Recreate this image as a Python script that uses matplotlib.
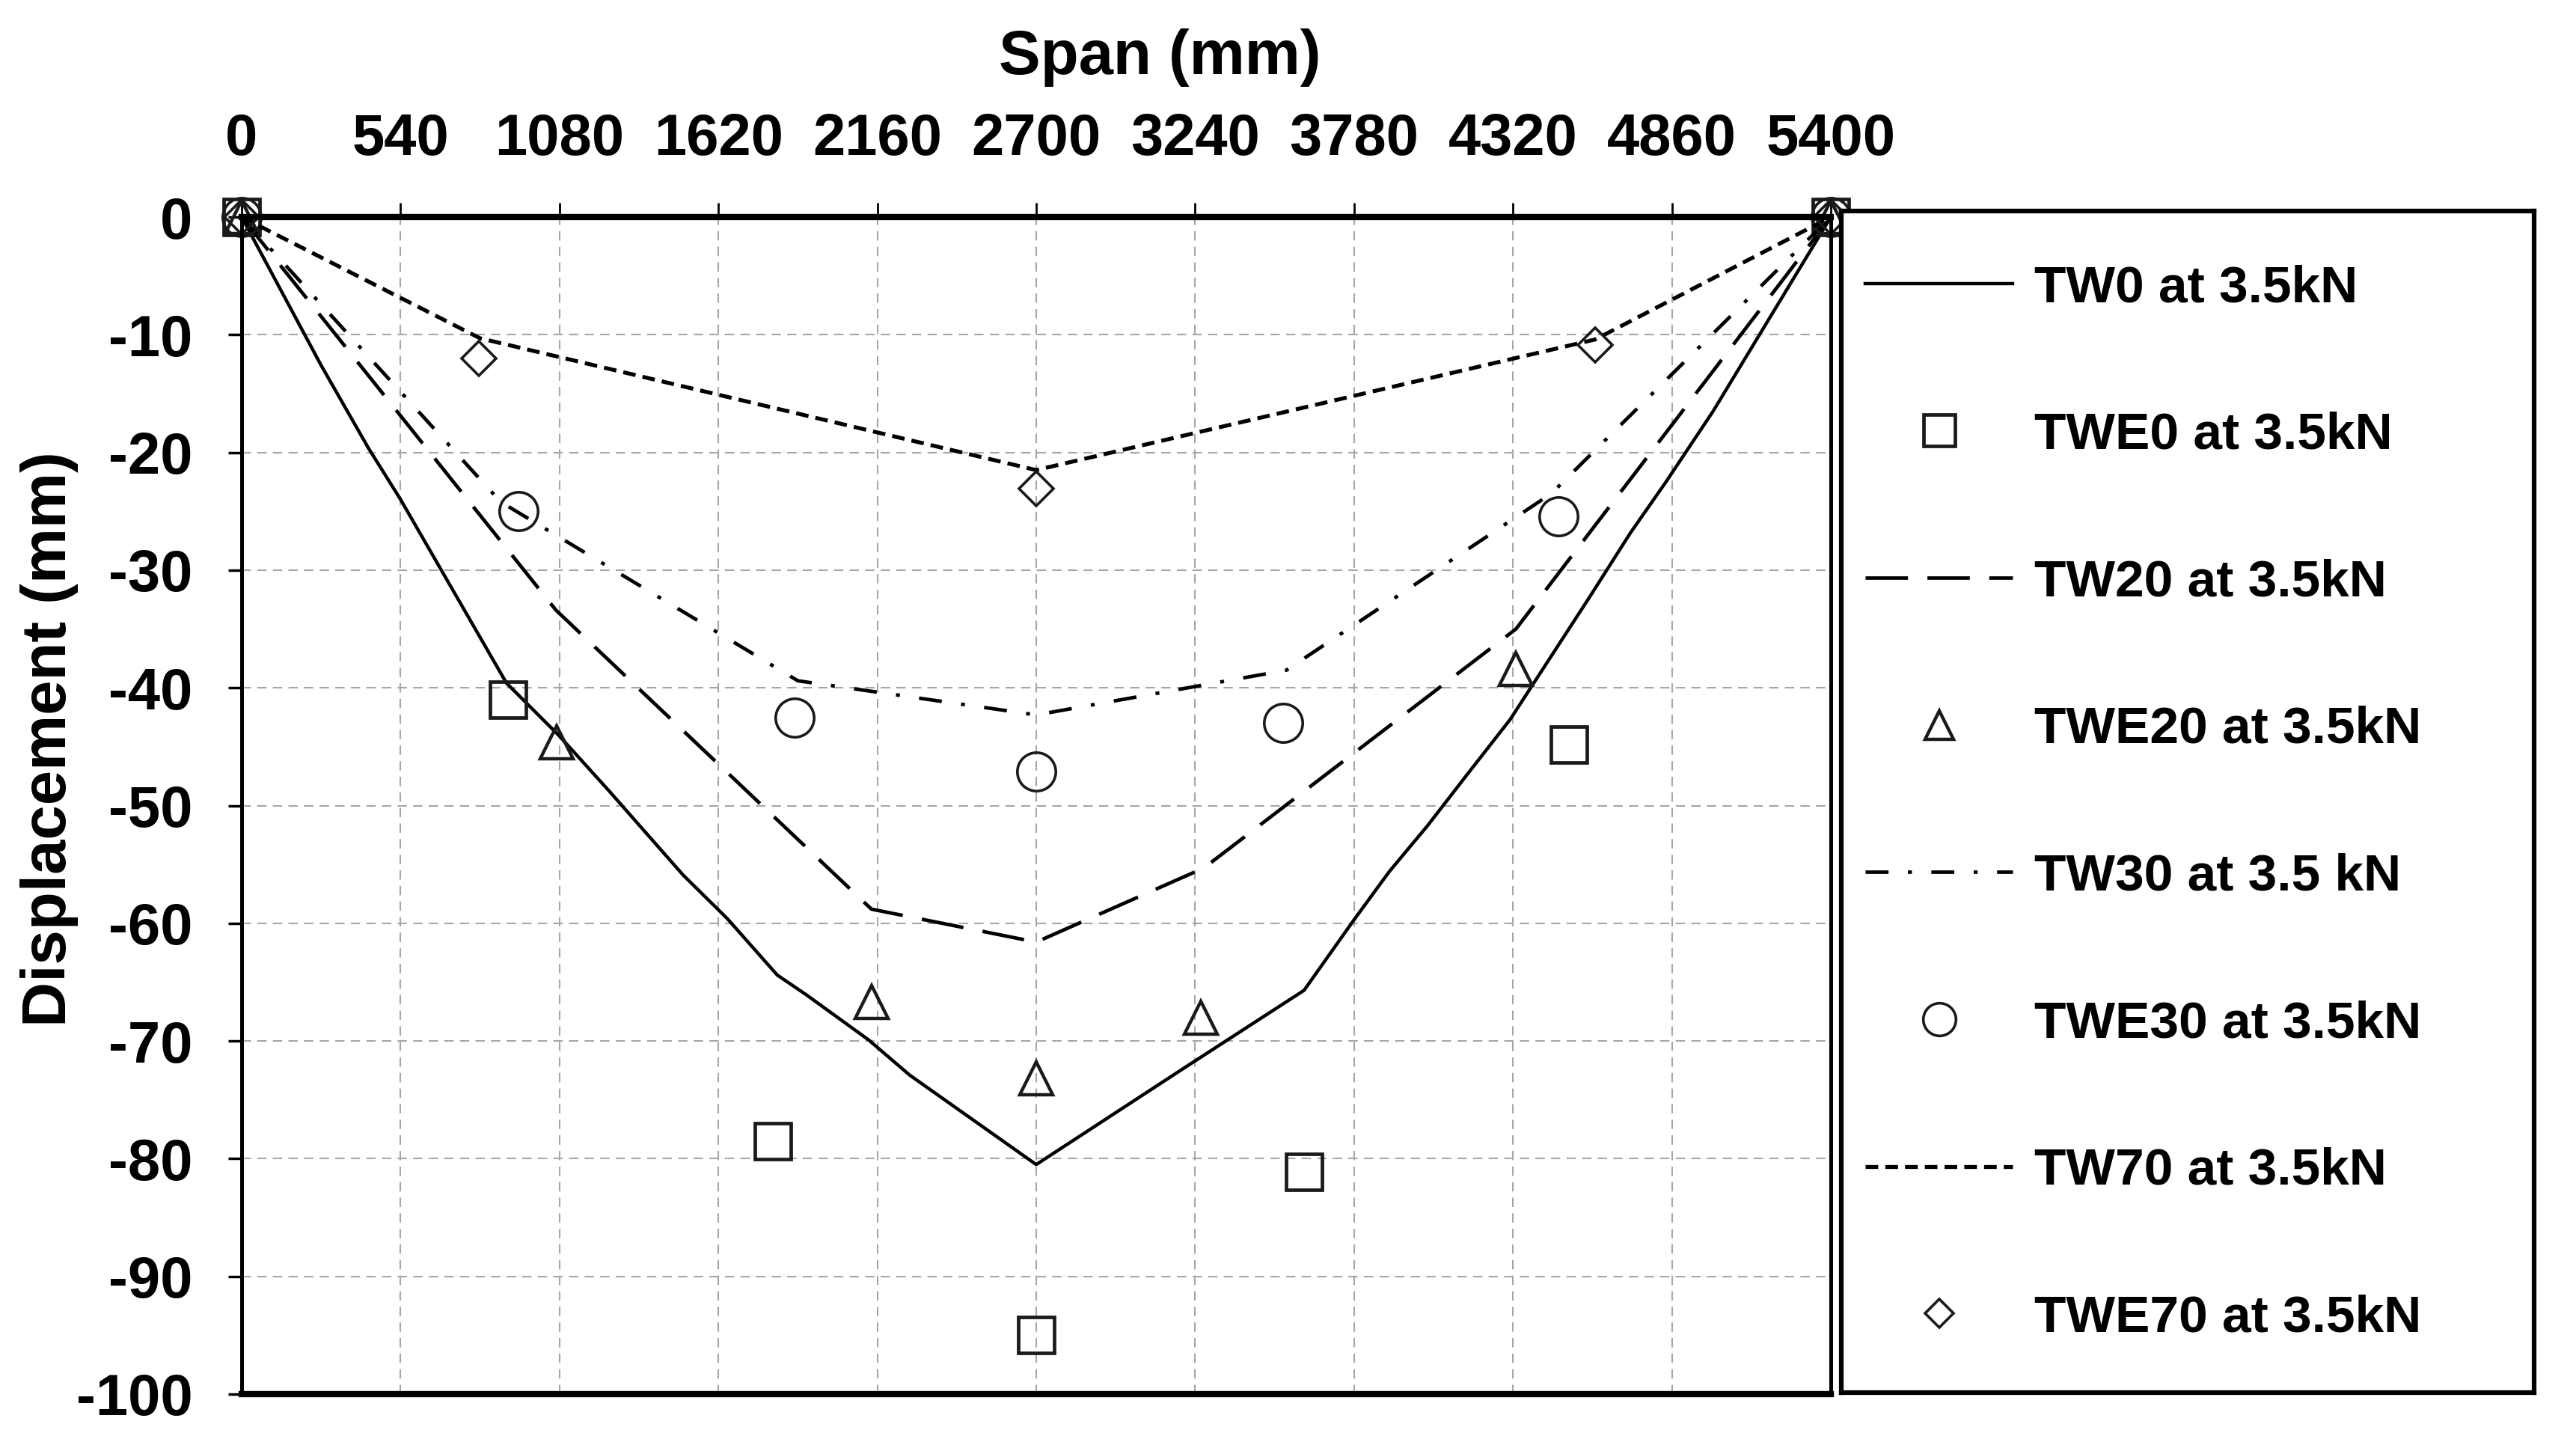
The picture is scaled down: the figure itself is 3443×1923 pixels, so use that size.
import matplotlib
matplotlib.use("Agg")
import matplotlib.pyplot as plt
import numpy as np

plt.rcParams['font.family'] = ['Liberation Sans', 'DejaVu Sans']
plt.rcParams['font.weight'] = 'bold'
plt.rcParams['axes.unicode_minus'] = False

# analytical curves (span in mm, displacement in mm)
span_tw0 = [0, 270, 430, 540, 810, 900, 1080, 1250, 1500, 1650, 1820, 1920, 2130, 2270,
            2700, 3190, 3610, 3780, 3900, 4030, 4160, 4310, 4580, 4720, 4840, 5000, 5400]
disp_tw0 = [0, -12.6, -19.6, -24.0, -35.7, -39.6, -44.1, -48.8, -55.9, -59.6, -64.4, -66.1, -69.9, -72.9,
            -80.5, -72.5, -65.7, -59.7, -55.6, -51.7, -47.5, -42.7, -32.3, -26.8, -22.5, -16.5, 0]

span_tw20 = [0, 1068, 2140, 2700, 3270, 4330, 5400]
disp_tw20 = [0, -33.4, -58.8, -61.6, -55.3, -35.0, 0]

span_tw30 = [0, 880, 1890, 2700, 3550, 4450, 5400]
disp_tw30 = [0, -24.2, -39.4, -42.3, -38.5, -23.5, 0]

span_tw70 = [0, 810, 2700, 4600, 5400]
disp_tw70 = [0, -10.3, -21.5, -10.4, 0]

# experimental points
span_twe0 = [0, 905, 1805, 2700, 3610, 4510, 5400]
disp_twe0 = [0, -41.0, -78.5, -95.0, -81.1, -44.8, 0]

span_twe20 = [0, 1070, 2140, 2700, 3260, 4330, 5400]
disp_twe20 = [0, -44.6, -66.7, -73.2, -68.0, -38.4, 0]

span_twe30 = [0, 940, 1880, 2700, 3540, 4475, 5400]
disp_twe30 = [0, -25.0, -42.5, -47.1, -43.0, -25.4, 0]

span_twe70 = [0, 805, 2700, 4600, 5400]
disp_twe70 = [0, -12.0, -23.1, -10.9, 0]

x_ticks = np.arange(0, 5401, 540)
y_ticks = np.arange(-100, 1, 10)

W, H = 3443, 1923
fig = plt.figure(figsize=(W / 100, H / 100), dpi=100)
ax = fig.add_axes([323 / W, 1 - 1863 / H, (2447 - 323) / W, (1863 - 290) / H])

ax.plot(span_tw0, disp_tw0, color='black', lw=3.2, ls='-', label='TW0 at 3.5kN')
ax.plot(span_twe0, disp_twe0, ls='none', marker='s', ms=35, mfc='none', mec='#1a1a1a', mew=3.4,
        clip_on=False, label='TWE0 at 3.5kN')
ax.plot(span_tw20, disp_tw20, color='black', lw=3.4, ls=(0, (12, 5.5)), label='TW20 at 3.5kN')
ax.plot(span_twe20, disp_twe20, ls='none', marker='^', ms=32, mfc='none', mec='#1a1a1a', mew=3.2,
        clip_on=False, label='TWE20 at 3.5kN')
ax.plot(span_tw30, disp_tw30, color='black', lw=3.4, ls=(0, (6.5, 5.5, 1.1, 5.5)), label='TW30 at 3.5 kN')
ax.plot(span_twe30, disp_twe30, ls='none', marker='o', ms=37, mfc='none', mec='#1a1a1a', mew=2.6,
        clip_on=False, label='TWE30 at 3.5kN')
ax.plot(span_tw70, disp_tw70, color='black', lw=3.8, ls=(0, (3.2, 1.8)), label='TW70 at 3.5kN')
ax.plot(span_twe70, disp_twe70, ls='none', marker='D', ms=23, mfc='none', mec='#1a1a1a', mew=2.6,
        clip_on=False, label='TWE70 at 3.5kN')

ax.set_xlim(0, 5400)
ax.set_ylim(-100, 0)
ax.set_xticks(x_ticks)
ax.set_yticks(y_ticks)
ax.xaxis.tick_top()
ax.tick_params(axis='x', which='major', direction='out', length=14, width=2, pad=34, labelsize=56)
ax.tick_params(axis='y', which='major', direction='out', length=13, width=2.5, pad=34, labelsize=56)
for lbl in ax.get_xticklabels() + ax.get_yticklabels():
    lbl.set_fontweight('bold')

ax.grid(True, color='#a6a6a6', ls=(0, (6, 4)), lw=1.5)
ax.set_axisbelow(True)

ax.spines['top'].set_linewidth(6)
ax.spines['bottom'].set_linewidth(6)
ax.spines['left'].set_linewidth(3.6)
ax.spines['right'].set_linewidth(3.6)

fig.text(1550 / W, 1 - 77 / H, 'Span (mm)', ha='center', va='center', fontsize=60, fontweight='bold')
fig.text(66 / W, 1 - 988 / H, 'Displacement (mm)', ha='center', va='center', rotation=90,
         fontsize=60, fontweight='bold')

# legend box drawn as its own axes
lax = fig.add_axes([2461 / W, 1 - 1861 / H, (3387 - 2461) / W, (1861 - 282) / H])
lax.set_xticks([])
lax.set_yticks([])
for s in lax.spines.values():
    s.set_linewidth(4.5)
handles, labels = ax.get_legend_handles_labels()
lax.legend(handles, labels, loc='upper left', bbox_to_anchor=(0.0346, 0.955), frameon=False,
           handlelength=2.84, handletextpad=0.42, labelspacing=1.91,
           borderpad=0, borderaxespad=0, numpoints=1, markerscale=0.85,
           prop={'weight': 'bold', 'size': 50})

fig.savefig('out.png', dpi=100)
